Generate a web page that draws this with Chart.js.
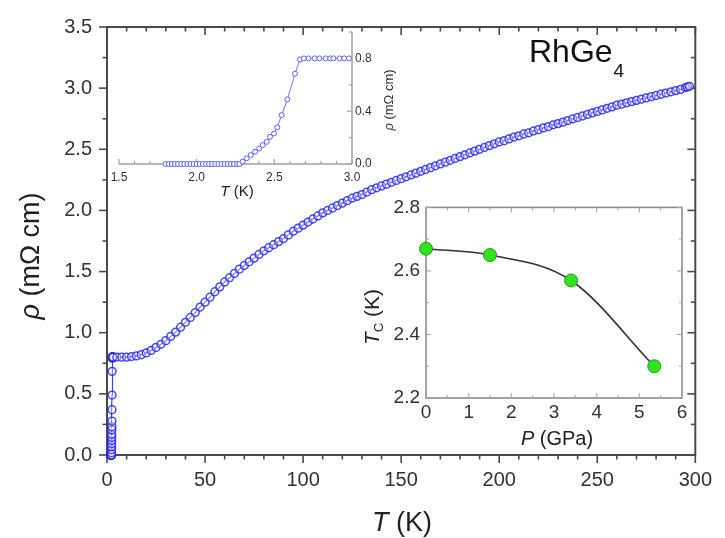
<!DOCTYPE html>
<html>
<head>
<meta charset="utf-8">
<script src="https://cdn.jsdelivr.net/npm/chart.js@4.4.1/dist/chart.umd.min.js"></script>
<style>
  html, body { margin: 0; padding: 0; background: #fff; }
  #wrap { position: relative; width: 725px; height: 538px; overflow: hidden; }
  canvas { position: absolute; }
</style>
</head>
<body>
<div id="wrap">
  <canvas id="main" width="725" height="538" style="left:0;top:0;width:725px;height:538px"></canvas>
  <canvas id="ins1" width="360" height="200" style="left:60px;top:10px;width:360px;height:200px"></canvas>
  <canvas id="ins2" width="380" height="260" style="left:340px;top:190px;width:380px;height:260px"></canvas>
</div>
<script>
// ---------------- DATA ----------------
// Low-temperature (superconducting transition) data, also shown in the upper inset
const lowT = [1.80,1.82,1.84,1.86,1.88,1.90,1.92,1.94,1.96,1.98,2.00,2.02,2.04,2.06,2.08,2.10,2.12,2.14,2.16,2.18,2.20,2.22,2.24,2.26,
  2.275,2.296,2.322,2.348,2.376,2.403,2.425,2.451,2.472,2.498,2.519,2.547,2.584,2.633,2.665,
  2.69,2.72,2.76,2.79,2.83,2.86,2.88,2.92,2.95,2.98];
const lowRho = [0,0,0,0,0,0,0,0,0,0,0,0,0,0,0,0,0,0,0,0,0,0,0,0,
  0,0.018,0.043,0.068,0.093,0.118,0.143,0.168,0.206,0.231,0.277,0.37,0.49,0.684,0.792,
  0.8,0.8,0.8,0.8,0.8,0.8,0.8,0.8,0.8,0.8];

// Normal-state resistivity, main panel
const mainT = [5,7.5,10,12.5,15,17.5,20,22.5,25,27.5,30,32.5,35,37.5,40,42.5,45,47.5,50,52.5,
  55,57.5,60,62.5,65,67.5,70,72.5,75,77.5,80,82.5,85,87.5,90,92.5,95,97.5,100,102.5,
  105,107.5,110,112.5,115,117.5,120,122.5,125,127.5,130,132.5,135,137.5,140,142.5,145,147.5,150,152.5,
  155,157.5,160,162.5,165,167.5,170,172.5,175,177.5,180,182.5,185,187.5,190,192.5,195,197.5,200,202.5,
  205,207.5,210,212.5,215,217.5,220,222.5,225,227.5,230,232.5,235,237.5,240,242.5,245,247.5,250,252.5,
  255,257.5,260,262.5,265,267.5,270,272.5,275,277.5,280,282.5,285,287.5,290,292.5,295,296,297];
const mainRho = [0.80,0.80,0.80,0.805,0.81,0.82,0.835,0.855,0.88,0.905,
  0.935,0.97,1.005,1.045,1.085,1.125,1.165,1.21,1.25,1.29,
  1.335,1.375,1.415,1.45,1.485,1.52,1.55,1.58,1.61,1.64,
  1.67,1.695,1.72,1.745,1.77,1.80,1.83,1.855,1.88,1.905,
  1.93,1.955,1.98,2.00,2.02,2.04,2.06,2.08,2.10,2.115,
  2.13,2.15,2.17,2.185,2.20,2.215,2.23,2.245,2.26,2.275,
  2.29,2.305,2.32,2.335,2.35,2.365,2.38,2.395,2.41,2.425,
  2.44,2.455,2.47,2.485,2.50,2.515,2.53,2.545,2.56,2.57,
  2.585,2.60,2.61,2.625,2.635,2.65,2.66,2.675,2.685,2.70,
  2.71,2.722,2.735,2.748,2.76,2.772,2.785,2.798,2.81,2.822,
  2.835,2.847,2.86,2.87,2.88,2.89,2.90,2.91,2.92,2.93,
  2.94,2.95,2.96,2.97,2.98,2.99,3.005,3.01,3.015];

// Tc vs pressure (lower inset)
const pressure = [0, 1.5, 3.4, 5.35];
const tcValues = [2.67, 2.65, 2.57, 2.30];

// Tick labels
const mainXTicks = [0, 50, 100, 150, 200, 250, 300];
const mainYTicks = [0.0, 0.5, 1.0, 1.5, 2.0, 2.5, 3.0, 3.5];
const ins1XTicks = [1.5, 2.0, 2.5, 3.0];
const ins1YTicks = [0.0, 0.4, 0.8];
const ins2XTicks = [0, 1, 2, 3, 4, 5, 6];
const ins2YTicks = [2.2, 2.4, 2.6, 2.8];

// ---------------- HELPERS ----------------
const FONT = "'Liberation Sans', Arial, Helvetica, sans-serif";
const toXY = (xs, ys) => xs.map((v, i) => ({ x: v, y: ys[i] }));
const setTicks = arr => (scale) => { scale.ticks = arr.map(v => ({ value: v })); };

function richText(ctx, parts, x, y, rotate, color) {
  ctx.save();
  ctx.translate(x, y);
  if (rotate) ctx.rotate(rotate);
  ctx.textBaseline = 'alphabetic';
  ctx.textAlign = 'left';
  ctx.fillStyle = color || '#222';
  let w = 0;
  parts.forEach(p => { ctx.font = p.font; w += ctx.measureText(p.text).width; });
  let cx = -w / 2;
  parts.forEach(p => {
    ctx.font = p.font;
    ctx.fillText(p.text, cx, p.dy || 0);
    cx += ctx.measureText(p.text).width;
  });
  ctx.restore();
}
function line(ctx, x1, y1, x2, y2) {
  ctx.beginPath(); ctx.moveTo(x1, y1); ctx.lineTo(x2, y2); ctx.stroke();
}

// ---------------- MAIN CHART ----------------
const mainDecor = {
  id: 'mainDecor',
  beforeDatasetsDraw(chart) {
    const { ctx, chartArea: a, scales: { x, y } } = chart;
    ctx.save();
    ctx.strokeStyle = '#4a4a4a';
    ctx.lineWidth = 2;
    ctx.strokeRect(a.left, a.top, a.right - a.left, a.bottom - a.top);
    ctx.lineWidth = 1.6;
    for (let i = 0; i <= 30; i++) {
      const px = x.getPixelForValue(i * 10);
      const L = i % 5 === 0 ? 8 : 4.5;
      line(ctx, px, a.bottom, px, a.bottom + L);
      line(ctx, px, a.top, px, a.top + L);
    }
    for (let i = 0; i <= 14; i++) {
      const py = y.getPixelForValue(i * 0.25);
      const L = i % 2 === 0 ? 8 : 4.5;
      line(ctx, a.left, py, a.left - L, py);
      line(ctx, a.right, py, a.right - L, py);
    }
    ctx.restore();
  },
  afterDraw(chart) {
    const { ctx } = chart;
    richText(ctx, [
      { text: 'T', font: `italic 27px ${FONT}` },
      { text: ' (K)', font: `27px ${FONT}` }
    ], 402, 531, 0, '#222');
    richText(ctx, [
      { text: 'ρ', font: `italic 27px ${FONT}` },
      { text: ' (mΩ cm)', font: `27px ${FONT}` }
    ], 39, 256, -Math.PI / 2, '#222');
    ctx.save();
    ctx.fillStyle = '#111';
    ctx.textBaseline = 'alphabetic';
    ctx.font = `32px ${FONT}`;
    ctx.fillText('RhGe', 529, 62);
    const w = ctx.measureText('RhGe').width;
    ctx.font = `19px ${FONT}`;
    ctx.fillText('4', 529 + w + 1, 77);
    ctx.restore();
  }
};

new Chart(document.getElementById('main'), {
  type: 'scatter',
  data: {
    datasets: [{
      data: toXY(lowT.concat(mainT), lowRho.concat(mainRho)),
      showLine: true,
      borderColor: 'rgba(45,45,245,0.9)',
      borderWidth: 1.2,
      pointRadius: 3.9,
      pointBorderWidth: 1.5,
      pointBorderColor: 'rgba(40,40,245,0.85)',
      pointBackgroundColor: 'rgba(255,255,255,0.35)',
      clip: 8
    }]
  },
  options: {
    responsive: false,
    animation: false,
    layout: { padding: { top: 14, right: 25, left: 0, bottom: 0 } },
    plugins: { legend: { display: false }, tooltip: { enabled: false } },
    scales: {
      x: {
        type: 'linear', min: 0, max: 300,
        afterBuildTicks: setTicks(mainXTicks),
        afterFit: s => { s.height = 83; },
        grid: { display: false, drawTicks: false },
        border: { display: false },
        ticks: { padding: 13, color: '#333', font: { family: FONT, size: 20 }, callback: v => String(v), maxRotation: 0 }
      },
      y: {
        type: 'linear', min: 0, max: 3.5,
        afterBuildTicks: setTicks(mainYTicks),
        afterFit: s => { s.width = 107; },
        grid: { display: false, drawTicks: false },
        border: { display: false },
        ticks: { padding: 15, color: '#333', font: { family: FONT, size: 20 }, callback: v => Number(v).toFixed(1) }
      }
    }
  },
  plugins: [mainDecor]
});

// ---------------- INSET 1 (transition) ----------------
const ins1Decor = {
  id: 'ins1Decor',
  beforeDatasetsDraw(chart) {
    const { ctx, chartArea: a, scales: { x, y } } = chart;
    ctx.save();
    ctx.strokeStyle = '#a0a0a0';
    ctx.lineWidth = 1.5;
    line(ctx, a.left, a.bottom, a.right, a.bottom);
    line(ctx, a.right, a.top, a.right, a.bottom);
    ctx.lineWidth = 1.2;
    for (let i = 0; i <= 15; i++) {
      const px = x.getPixelForValue(1.5 + i * 0.1);
      const L = i % 5 === 0 ? 5 : 3;
      line(ctx, px, a.bottom, px, a.bottom - L);
    }
    for (let i = 0; i <= 5; i++) {
      const py = y.getPixelForValue(i * 0.2);
      const L = i % 2 === 0 ? 5 : 3;
      line(ctx, a.right, py, a.right - L, py);
    }
    ctx.restore();
  },
  afterDraw(chart) {
    const { ctx } = chart;
    richText(ctx, [
      { text: 'T', font: `italic 15px ${FONT}` },
      { text: ' (K)', font: `15px ${FONT}` }
    ], 177, 186, 0, '#222');
    richText(ctx, [
      { text: 'ρ', font: `italic 13px ${FONT}` },
      { text: ' (mΩ cm)', font: `13px ${FONT}` }
    ], 333, 90, -Math.PI / 2, '#333');
  }
};

new Chart(document.getElementById('ins1'), {
  type: 'scatter',
  data: {
    datasets: [{
      data: toXY(lowT, lowRho),
      showLine: true,
      borderColor: '#7070ff',
      borderWidth: 1,
      pointRadius: 2.5,
      pointBorderWidth: 1,
      pointBorderColor: '#6060ff',
      pointBackgroundColor: '#ffffff',
      clip: 6
    }]
  },
  options: {
    responsive: false,
    animation: false,
    layout: { padding: { top: 22, right: 0, left: 59, bottom: 0 } },
    plugins: { legend: { display: false }, tooltip: { enabled: false } },
    scales: {
      x: {
        type: 'linear', min: 1.5, max: 3.0,
        afterBuildTicks: setTicks(ins1XTicks),
        afterFit: s => { s.height = 46; },
        grid: { display: false, drawTicks: false },
        border: { display: false },
        ticks: { padding: 6, color: '#333', font: { family: FONT, size: 12 }, callback: v => Number(v).toFixed(1), maxRotation: 0 }
      },
      y: {
        type: 'linear', position: 'right', min: 0, max: 1.0,
        afterBuildTicks: setTicks(ins1YTicks),
        afterFit: s => { s.width = 68; },
        grid: { display: false, drawTicks: false },
        border: { display: false },
        ticks: { padding: 3, color: '#333', font: { family: FONT, size: 12 }, callback: v => Number(v).toFixed(1) }
      }
    }
  },
  plugins: [ins1Decor]
});

// ---------------- INSET 2 (Tc vs P) ----------------
const ins2Decor = {
  id: 'ins2Decor',
  beforeDatasetsDraw(chart) {
    const { ctx, chartArea: a, scales: { x, y } } = chart;
    ctx.save();
    ctx.strokeStyle = '#8c8c8c';
    ctx.lineWidth = 1.6;
    ctx.strokeRect(a.left, a.top, a.right - a.left, a.bottom - a.top);
    ctx.strokeStyle = '#a8a8a8';
    ctx.lineWidth = 1.1;
    for (let i = 0; i <= 12; i++) {
      const px = x.getPixelForValue(i * 0.5);
      const L = i % 2 === 0 ? 5 : 3;
      line(ctx, px, a.bottom, px, a.bottom - L);
      line(ctx, px, a.top, px, a.top + L);
    }
    for (let i = 0; i <= 6; i++) {
      const py = y.getPixelForValue(2.2 + i * 0.1);
      const L = i % 2 === 0 ? 5 : 3;
      line(ctx, a.left, py, a.left + L, py);
      line(ctx, a.right, py, a.right - L, py);
    }
    ctx.restore();
  },
  afterDraw(chart) {
    const { ctx } = chart;
    richText(ctx, [
      { text: 'P', font: `italic 20px ${FONT}` },
      { text: ' (GPa)', font: `20px ${FONT}` }
    ], 217, 255, 0, '#222');
    richText(ctx, [
      { text: 'T', font: `italic 21px ${FONT}` },
      { text: 'C', font: `13px ${FONT}`, dy: 4 },
      { text: ' (K)', font: `21px ${FONT}` }
    ], 39, 127, -Math.PI / 2, '#222');
  }
};

new Chart(document.getElementById('ins2'), {
  type: 'scatter',
  data: {
    datasets: [{
      data: toXY(pressure, tcValues),
      showLine: true,
      cubicInterpolationMode: 'monotone',
      borderColor: '#333333',
      borderWidth: 1.6,
      pointRadius: 6.5,
      pointBorderWidth: 1,
      pointBorderColor: '#1f9a12',
      pointBackgroundColor: '#2ee41c',
      clip: false
    }]
  },
  options: {
    responsive: false,
    animation: false,
    layout: { padding: { top: 17, right: 38, left: 0, bottom: 0 } },
    plugins: { legend: { display: false }, tooltip: { enabled: false } },
    scales: {
      x: {
        type: 'linear', min: 0, max: 6,
        afterBuildTicks: setTicks(ins2XTicks),
        afterFit: s => { s.height = 52; },
        grid: { display: false, drawTicks: false },
        border: { display: false },
        ticks: { padding: 3, color: '#333', font: { family: FONT, size: 19 }, callback: v => String(v), maxRotation: 0 }
      },
      y: {
        type: 'linear', min: 2.2, max: 2.8,
        afterBuildTicks: setTicks(ins2YTicks),
        afterFit: s => { s.width = 86; },
        grid: { display: false, drawTicks: false },
        border: { display: false },
        ticks: { padding: 6, color: '#333', font: { family: FONT, size: 19 }, callback: v => Number(v).toFixed(1) }
      }
    }
  },
  plugins: [ins2Decor]
});
</script>
</body>
</html>
